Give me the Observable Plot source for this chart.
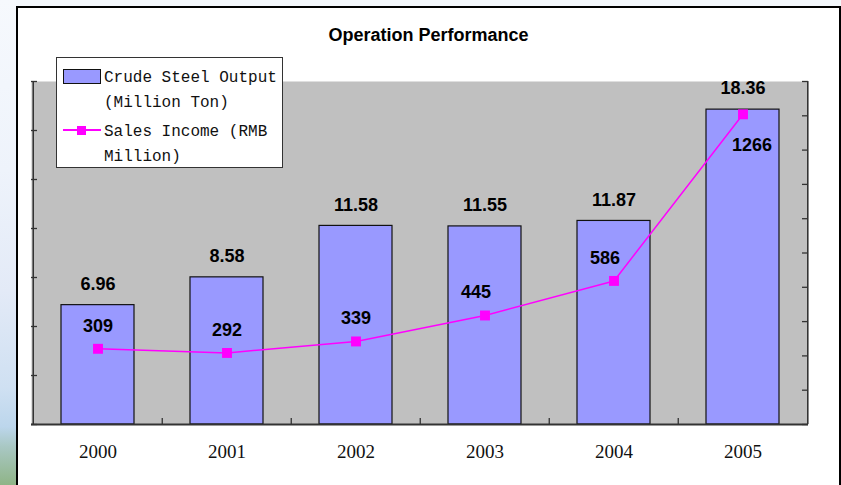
<!DOCTYPE html>
<html>
<head>
<meta charset="utf-8">
<script src="https://cdn.jsdelivr.net/npm/d3@7"></script>
<script src="https://cdn.jsdelivr.net/npm/@observablehq/plot@0.6"></script>
<style>
  html, body { margin: 0; padding: 0; background: #fff; }
  #wrap { position: relative; width: 841px; height: 485px; overflow: hidden; background: #F4F8FC; }
  #stripLeft { position: absolute; left: 0; top: 0; width: 16px; height: 485px;
    background: linear-gradient(to bottom, #F6F9FD 0%, #EEF3FB 35%, #E3EAF7 60%, #CFE0F2 80%, #BCD6EC 88%, #A9C8C4 92%, #8FB487 100%); }
  #box { position: absolute; left: 16px; top: 6px; width: 825px; height: 520px; box-sizing: border-box;
    border: 2px solid #000; background: #fff; }
  #title { position: absolute; left: 16px; width: 825px; top: 25px; text-align: center;
    font: bold 18px "Liberation Sans", Arial, sans-serif; line-height: 20px; color: #000; }
  #chart { position: absolute; left: 0; top: 0; }
  #legend { position: absolute; left: 56px; top: 57px; width: 227px; height: 111px; box-sizing: border-box;
    border: 1px solid #333; background: #fff; }
  .lgtext { position: absolute; left: 47px; font: 16px "Liberation Mono", monospace; line-height: 25px; color: #111; white-space: pre; }
  .swatchBar { position: absolute; left: 6px; top: 11px; width: 38px; height: 15px; box-sizing: border-box;
    border: 1.5px solid #111; background: #9999FF; }
  .swatchLine { position: absolute; left: 6px; top: 71px; width: 38px; height: 2px; background: #FF00FF; }
  .swatchDot { position: absolute; left: 20px; top: 67.5px; width: 9px; height: 9px; background: #FF00FF; }
</style>
</head>
<body>
<div id="wrap">
  <div id="stripLeft"></div>
  <div id="box"></div>
  <div id="title">Operation Performance</div>
  <div id="chart"></div>
  <div id="legend">
    <div class="swatchBar"></div>
    <div class="lgtext" style="top:8px">Crude Steel Output
(Million Ton)</div>
    <div class="swatchLine"></div>
    <div class="swatchDot"></div>
    <div class="lgtext" style="top:62px">Sales Income (RMB
Million)</div>
  </div>
</div>
<script>
// ---- data ----
const years = ["2000", "2001", "2002", "2003", "2004", "2005"];
const steelOutput = [6.96, 8.58, 11.58, 11.55, 11.87, 18.36];
const steelLabels = ["6.96", "8.58", "11.58", "11.55", "11.87", "18.36"];
const salesIncome = [309, 292, 339, 445, 586, 1266];
const salesLabels = ["309", "292", "339", "445", "586", "1266"];
const leftAxisMax = 20;
const leftTickCount = 7;
const rightAxisMax = 1400;
const rightTickStep = 140;

// ---- layout ----
const W = 841, H = 485, mL = 31, mR = 33, mT = 81, mB = 61;
const plotW = W - mL - mR, plotH = H - mT - mB;
const step = plotW / years.length;
const k = leftAxisMax / rightAxisMax;

const data = years.map((y, i) => ({
  year: y, steel: steelOutput[i], steelLabel: steelLabels[i],
  sales: salesIncome[i], salesLabel: salesLabels[i]
}));
const leftTicks = d3.range(leftTickCount + 1).map(i => i * leftAxisMax / leftTickCount);
const rightTicks = d3.range(0, rightAxisMax + 1, rightTickStep).map(v => v * k);

const labelFont = {fontSize: 18, fontWeight: "bold", fontFamily: "Liberation Sans, Arial, sans-serif", fill: "#000"};
const axisColor = "#333";

const chart = Plot.plot({
  width: W, height: H,
  marginLeft: mL, marginRight: mR, marginTop: mT, marginBottom: mB,
  style: {background: "transparent", overflow: "visible"},
  x: {type: "band", domain: years, padding: 0, axis: null},
  y: {domain: [0, leftAxisMax], axis: null},
  marks: [
    Plot.frame({fill: "#C0C0C0", stroke: "none"}),
    Plot.barY(data, {x: "year", y: "steel", fill: "#9999FF", stroke: "#111", strokeWidth: 1.2, insetLeft: 28, insetRight: 28}),
    // axes lines
    Plot.ruleX([years[0]], {dx: -step / 2, stroke: axisColor, strokeWidth: 1.5}),
    Plot.ruleX([years[years.length - 1]], {dx: step / 2, stroke: axisColor, strokeWidth: 1.5}),
    Plot.ruleY([0], {stroke: axisColor, strokeWidth: 2}),
    // inward ticks
    Plot.tickY(leftTicks, {stroke: axisColor, strokeWidth: 1.3, insetRight: plotW - 6}),
    Plot.tickY(rightTicks, {stroke: axisColor, strokeWidth: 1.3, insetLeft: plotW - 6}),
    Plot.tickX(years.slice(1), {dx: -step / 2, stroke: axisColor, strokeWidth: 1.3, insetTop: plotH - 6}),
    // sales line
    Plot.line(data, {x: "year", y: d => d.sales * k, stroke: "#FF00FF", strokeWidth: 1.5}),
    Plot.dot(data, {x: "year", y: d => d.sales * k, symbol: "square", r: 5.6, fill: "#FF00FF", stroke: "none"}),
    // bar labels
    Plot.text(data, {x: "year", y: "steel", text: "steelLabel", dy: -21, ...labelFont}),
    // sales labels
    Plot.text(data.filter(d => +d.year <= 2002), {x: "year", y: d => d.sales * k, text: "salesLabel", dy: -23, ...labelFont}),
    Plot.text(data.filter(d => +d.year >= 2003 && +d.year <= 2004), {x: "year", y: d => d.sales * k, text: "salesLabel", dx: -9, dy: -23, ...labelFont}),
    Plot.text(data.filter(d => +d.year === 2005), {x: "year", y: d => d.sales * k, text: "salesLabel", dx: 9, dy: 31, ...labelFont}),
    // year labels
    Plot.text(years, {x: d => d, frameAnchor: "bottom", dy: 33, fontSize: 19, fontFamily: "Liberation Serif, serif", fill: "#111"})
  ]
});
document.getElementById("chart").appendChild(chart);
</script>
</body>
</html>
